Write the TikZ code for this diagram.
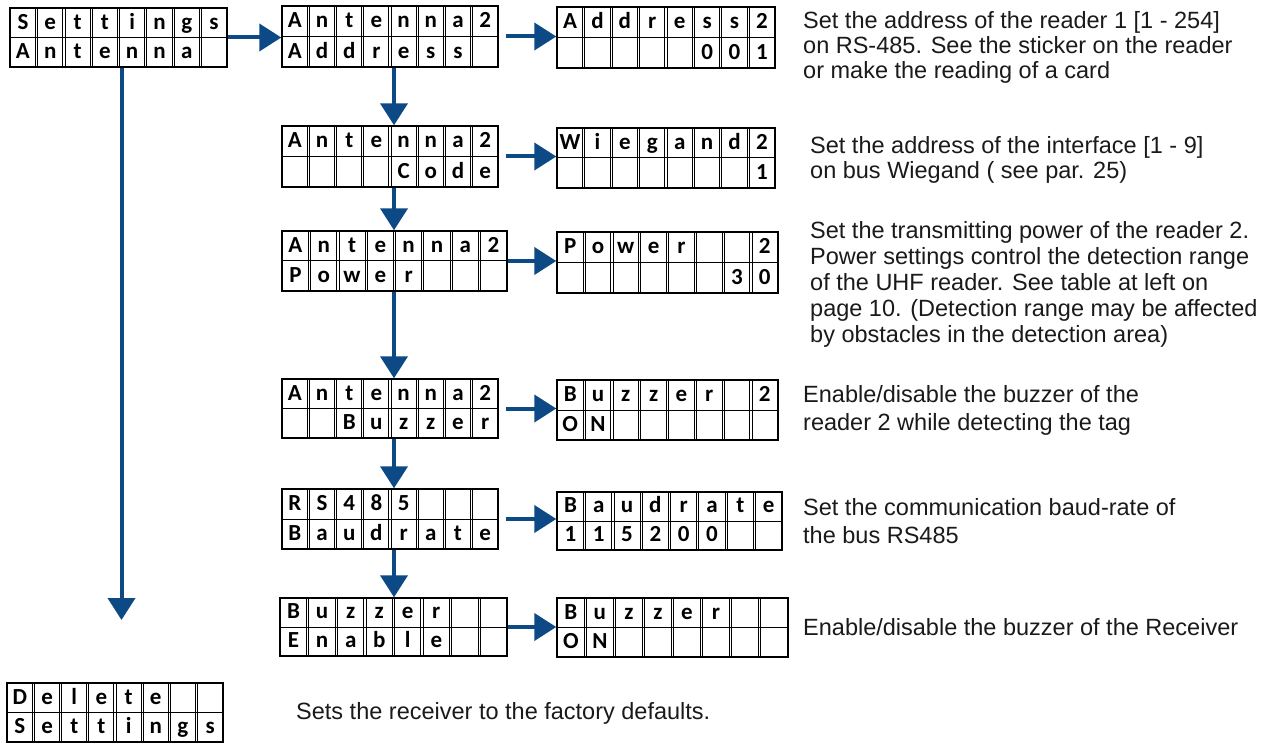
\documentclass[tikz,border=0pt]{standalone}
\usepackage{fontspec}
\setmainfont{Liberation Sans}
\newfontfamily\lcdfont{Carlito Bold}
\usepackage{tikz}
\usetikzlibrary{arrows.meta,positioning,calc}
\usepackage{xcolor}
\definecolor{menublue}{HTML}{0D4A85}
\definecolor{desctext}{HTML}{1A1A1A}

\tikzset{
  lcdframe/.style={draw, line width=1.4pt, inner sep=0pt, fill=white},
  lcdline/.style={line width=1pt},
  lcdchar/.style={font=\lcdfont\fontsize{23}{23}\selectfont, inner sep=0pt, anchor=base},
  flow/.style={draw=menublue, line width=4pt, -{Triangle[length=22pt,width=27pt]}},
  desc/.style={font=\fontsize{23.5}{25}\selectfont, text=desctext, anchor=west, align=left, inner sep=0pt},
}

% #1 name, #2 centre, #3 width, #4 height, #5 top row, #6 bottom row
\newcommand{\lcd}[6]{%
  \node[lcdframe, minimum width=#3pt, minimum height=#4pt] (#1) at (#2) {};
  \draw[lcdline] (#1.west) -- (#1.east);
  \foreach \k in {1,...,7} {
    \draw[lcdline] ($(#1.north west)!\k/8!(#1.north east)+(-1.1,0)$) -- ($(#1.south west)!\k/8!(#1.south east)+(-1.1,0)$);
    \draw[lcdline] ($(#1.north west)!\k/8!(#1.north east)+(1.1,0)$) -- ($(#1.south west)!\k/8!(#1.south east)+(1.1,0)$);
  }
  \foreach \c [count=\i, evaluate=\i as \f using (\i-0.5)/8] in {#5}
    \node[lcdchar] at ($(#1.north west)!\f!(#1.north east)+(0,-#4/4-7)$) {\c};
  \foreach \c [count=\i, evaluate=\i as \f using (\i-0.5)/8] in {#6}
    \node[lcdchar] at ($(#1.north west)!\f!(#1.north east)+(0,-3*#4/4-7)$) {\c};
}

\begin{document}
\begin{tikzpicture}[x=1pt, y=1pt]
  \useasboundingbox (0,0) rectangle (1282,-743);

  % left column
  \lcd{settings}{118.5,-37.5}{217}{59}{S,e,t,t,i,n,g,s}{A,n,t,e,n,n,a,{}}
  \lcd{delete}{115,-712.5}{216}{59}{D,e,l,e,t,e,{},{}}{S,e,t,t,i,n,g,s}

  % menu column
  \lcd{antaddr}{390,-36.5}{216}{61}{A,n,t,e,n,n,a,2}{A,d,d,r,e,s,s,{}}
  \lcd{antcode}{390,-156.5}{216}{61}{A,n,t,e,n,n,a,2}{{},{},{},{},C,o,d,e}
  \lcd{antpow}{394.5,-261}{225}{60}{A,n,t,e,n,n,a,2}{P,o,w,e,r,{},{},{}}
  \lcd{antbuz}{390,-408.5}{216}{59}{A,n,t,e,n,n,a,2}{{},{},B,u,z,z,e,r}
  \lcd{rsbaud}{390,-519}{216}{60}{R,S,4,8,5,{},{},{}}{B,a,u,d,r,a,t,e}
  \lcd{buzen}{393.5,-627}{227}{58}{B,u,z,z,e,r,{},{}}{E,n,a,b,l,e,{},{}}

  % value column
  \lcd{addrval}{666,-37.5}{218}{61}{A,d,d,r,e,s,s,2}{{},{},{},{},{},0,0,1}
  \lcd{wiegval}{666,-158}{218}{60}{W,i,e,g,a,n,d,2}{{},{},{},{},{},{},{},1}
  \lcd{powval}{667.5,-262.5}{221}{61}{P,o,w,e,r,{},{},2}{{},{},{},{},{},{},3,0}
  \lcd{buzval}{667.5,-410}{221}{60}{B,u,z,z,e,r,{},2}{O,N,{},{},{},{},{},{}}
  \lcd{baudval}{669.5,-521}{225}{58}{B,a,u,d,r,a,t,e}{1,1,5,2,0,0,{},{}}
  \lcd{onval}{672.5,-627.5}{231}{59}{B,u,z,z,e,r,{},{}}{O,N,{},{},{},{},{},{}}

  % descriptions
  \node[desc] (addrtxt) at (803,-47) {Set the address of the reader 1 [1 - 254]\\on RS-485. See the sticker on the reader\\or make the reading of a card};
  \node[desc] (wiegtxt) at (810,-160) {Set the address of the interface [1 - 9]\\on bus Wiegand ( see par. 25)};
  \node[desc, font=\fontsize{23.5}{26}\selectfont] (powtxt) at (810,-284.5) {Set the transmitting power of the reader 2.\\Power settings control the detection range\\of the UHF reader. See table at left on\\page 10. (Detection range may be affected\\by obstacles in the detection area)};
  \node[desc, font=\fontsize{23.5}{28}\selectfont] (buztxt) at (803,-410) {Enable/disable the buzzer of the\\reader 2 while detecting the tag};
  \node[desc, font=\fontsize{23.5}{28}\selectfont] (baudtxt) at (803,-521) {Set the communication baud-rate of\\the bus RS485};
  \node[desc] (ontxt) at (803,-627) {Enable/disable the buzzer of the Receiver};
  \node[desc] (deltxt) at (296,-713) {Sets the receiver to the factory defaults.};

  % arrows
  \coordinate (dropend) at (121.5,-620);
  \draw[flow] ([xshift=3pt]settings.south) -- (dropend);
  \draw[flow] (settings.east) -- (settings.east -| antaddr.west);
  \draw[flow, shorten <=7pt] (antaddr.east) -- (antaddr.east -| addrval.west);
  \draw[flow, shorten <=7pt] (antcode.east) -- (antcode.east -| wiegval.west);
  \draw[flow] (antpow.east) -- (antpow.east -| powval.west);
  \draw[flow, shorten <=7pt] (antbuz.east) -- (antbuz.east -| buzval.west);
  \draw[flow, shorten <=7pt] (rsbaud.east) -- (rsbaud.east -| baudval.west);
  \draw[flow] (buzen.east) -- (buzen.east -| onval.west);

  \draw[flow] ([xshift=4pt]antaddr.south) -- ([xshift=4pt]antcode.north);
  \draw[flow] ([xshift=4pt]antcode.south) -- ([xshift=4pt]antcode.south |- antpow.north);
  \draw[flow] ([xshift=4pt]antcode.south |- antpow.south) -- ([xshift=4pt]antbuz.north);
  \draw[flow] ([xshift=4pt]antbuz.south) -- ([xshift=4pt]rsbaud.north);
  \draw[flow] ([xshift=4pt]rsbaud.south) -- ([xshift=4pt]rsbaud.south |- buzen.north);
\end{tikzpicture}
\end{document}
